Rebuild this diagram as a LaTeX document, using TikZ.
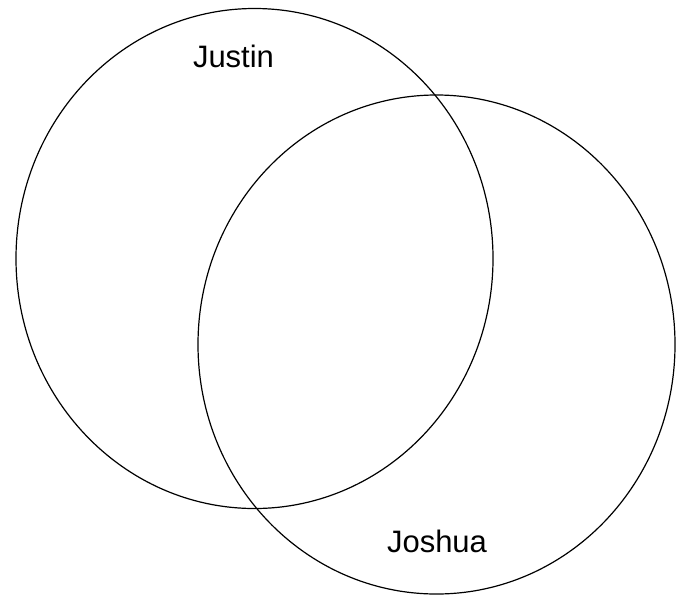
\documentclass[tikz,border=0pt]{standalone}
\usepackage{fontspec}
\setmainfont{Liberation Sans}
\begin{document}
\begin{tikzpicture}[x=1pt,y=-1pt,line width=1.2pt]
 \useasboundingbox (0,0) rectangle (676,595);
 \tikzset{setlabel/.style={anchor=base,inner sep=0pt,font=\fontsize{31}{36}\selectfont}}
 \begin{scope}
  \draw (254.5,258.5) ellipse [x radius=238.5,y radius=250];
  \node[setlabel] (justin) at (233.5,67) {Justin};
 \end{scope}
 \begin{scope}
  \draw (436.5,344.5) ellipse [x radius=238.5,y radius=249.5];
  \node[setlabel] (joshua) at (437,552) {Joshua};
 \end{scope}
\end{tikzpicture}
\end{document}
